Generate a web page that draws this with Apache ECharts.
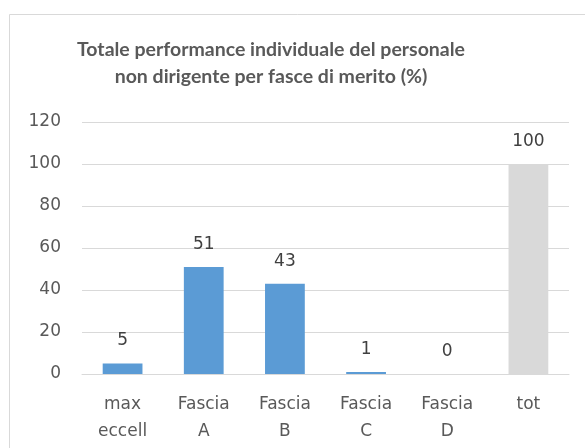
<!DOCTYPE html>
<html>
<head>
<meta charset="utf-8">
<script src="https://cdn.jsdelivr.net/npm/echarts@6/dist/echarts.min.js"></script>
<style>
html, body { margin: 0; padding: 0; background: #fff; }
#chart { width: 585px; height: 448px; }
</style>
</head>
<body>
<div id="chart"></div>
<script>
// dati
const categories = ['max\neccell', 'Fascia\nA', 'Fascia\nB', 'Fascia\nC', 'Fascia\nD', 'tot'];
const values = [5, 51, 43, 1, 0, 100];
const barColors = ['#5b9bd5', '#5b9bd5', '#5b9bd5', '#5b9bd5', '#5b9bd5', '#d9d9d9'];
const yTicks = { min: 0, max: 120, interval: 20 };

const chart = echarts.init(document.getElementById('chart'));

const option = {
    animation: false,
    backgroundColor: '#fff',
    title: {
        text: 'Totale performance individuale del personale\nnon dirigente per fasce di merito (%)',
        left: 266,
        top: 31,
        textAlign: 'center',
        textStyle: {
            fontFamily: 'Lato',
            fontWeight: 'bold',
            fontSize: 19.5,
            lineHeight: 27,
            color: '#595959'
        }
    },
    graphic: [{
        type: 'rect',
        shape: { x: 9.5, y: 14.5, width: 600, height: 460 },
        style: { fill: null, stroke: '#d9d9d9', lineWidth: 1 },
        silent: true
    }],
    grid: { left: 82, right: 16, top: 122, bottom: 74 },
    xAxis: {
        type: 'category',
        data: categories,
        axisTick: { show: false },
        axisLine: { lineStyle: { color: '#d9d9d9' } },
        axisLabel: {
            interval: 0,
            margin: 17,
            fontFamily: 'DejaVu Sans',
            fontSize: 17,
            lineHeight: 27,
            color: '#595959'
        }
    },
    yAxis: {
        type: 'value',
        min: yTicks.min,
        max: yTicks.max,
        interval: yTicks.interval,
        axisLine: { show: false },
        axisTick: { show: false },
        splitLine: { lineStyle: { color: '#d9d9d9' } },
        axisLabel: {
            margin: 21,
            fontFamily: 'DejaVu Sans',
            fontSize: 17,
            color: '#595959'
        }
    },
    series: [{
        type: 'bar',
        barWidth: '49%',
        data: values.map((v, i) => ({ value: v, itemStyle: { color: barColors[i] } })),
        label: {
            show: true,
            position: 'top',
            distance: 14,
            fontFamily: 'DejaVu Sans',
            fontSize: 17,
            color: '#404040'
        }
    }]
};

chart.setOption(option);
</script>
</body>
</html>
